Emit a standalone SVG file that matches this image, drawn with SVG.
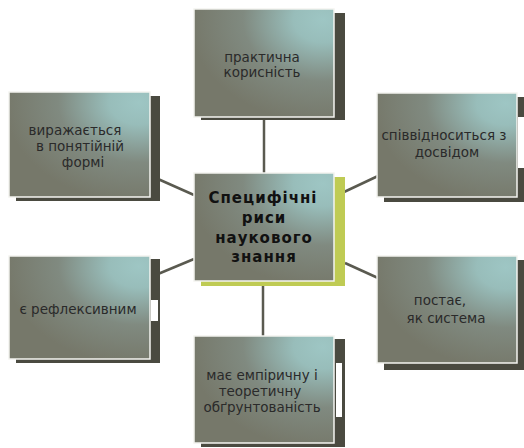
<svg xmlns="http://www.w3.org/2000/svg" width="524" height="448" viewBox="0 0 524 448">
  <defs>
    <radialGradient id="g" cx="0.92" cy="0.1" r="0.95" fx="0.92" fy="0.1">
      <stop offset="0" stop-color="#9ec6c4"/>
      <stop offset="0.22" stop-color="#98bdba"/>
      <stop offset="0.6" stop-color="#808a80"/>
      <stop offset="1" stop-color="#76786a"/>
    </radialGradient>
    <style>
      .box{fill:url(#g);stroke:#f4f4f0;stroke-width:1.5}
      .sh{fill:#4a4a40}
      .shc{fill:#bfcb54}
      .gap{fill:#ffffff}
      .t{font-family:"DejaVu Sans",Verdana,sans-serif;font-size:13.5px;fill:#2a2a2a}
      .tc{font-family:"DejaVu Sans",Verdana,sans-serif;font-size:15px;font-weight:bold;fill:#111111;letter-spacing:1px}
      .c{stroke:#5a5a50;stroke-width:2.5;fill:none}
    </style>
  </defs>
  <rect width="524" height="448" fill="#ffffff"/>
  <g id="connectors">
    <line class="c" x1="264" y1="117" x2="264" y2="173"/>
    <line class="c" x1="263" y1="281" x2="263" y2="336"/>
    <line class="c" x1="158" y1="179" x2="194" y2="195"/>
    <line class="c" x1="344" y1="192" x2="378" y2="176"/>
    <line class="c" x1="158" y1="274" x2="194" y2="259"/>
    <line class="c" x1="345" y1="263" x2="378" y2="278"/>
  </g>
  <g id="n-top">
    <rect class="sh" x="201" y="13" width="144" height="107"/>
    <rect class="box" x="194" y="9" width="140" height="108"/>
    <text class="t" text-anchor="middle" x="262" y="62">практична</text>
    <text class="t" text-anchor="middle" x="262" y="77">корисність</text>
  </g>
  <g id="n-left-top">
    <rect class="sh" x="16" y="96" width="144" height="105"/>
    <rect class="box" x="9" y="92" width="141" height="105"/>
    <text class="t" text-anchor="middle" x="75" y="135">виражається</text>
    <text class="t" text-anchor="middle" x="80" y="151">в понятійній</text>
    <text class="t" text-anchor="middle" x="83" y="167">формі</text>
  </g>
  <g id="n-right-top">
    <rect class="sh" x="384" y="97" width="144" height="105"/>
    <rect class="gap" x="518" y="117" width="8" height="51"/>
    <rect class="box" x="377" y="93" width="140" height="104"/>
    <text class="t" text-anchor="middle" x="444" y="140">співвідноситься з</text>
    <text class="t" text-anchor="middle" x="447" y="157">досвідом</text>
  </g>
  <g id="n-center">
    <rect class="shc" x="201" y="177" width="144" height="109"/>
    <rect class="box" x="194" y="173" width="140" height="108"/>
    <text class="tc" text-anchor="middle" x="263" y="203">Специфічні</text>
    <text class="tc" text-anchor="middle" x="264" y="223">риси</text>
    <text class="tc" text-anchor="middle" x="264" y="243">наукового</text>
    <text class="tc" text-anchor="middle" x="264" y="262">знання</text>
  </g>
  <g id="n-left-bottom">
    <rect class="sh" x="16" y="259" width="144" height="104"/>
    <rect class="gap" x="151" y="300" width="7" height="21"/>
    <rect class="box" x="9" y="256" width="141" height="103"/>
    <text class="t" text-anchor="middle" x="78" y="314">є рефлексивним</text>
  </g>
  <g id="n-right-bottom">
    <rect class="sh" x="384" y="260" width="144" height="110"/>
    <rect class="box" x="377" y="256" width="140" height="107"/>
    <text class="t" text-anchor="middle" x="440" y="305">постає,</text>
    <text class="t" text-anchor="middle" x="446" y="323">як система</text>
  </g>
  <g id="n-bottom">
    <rect class="sh" x="201" y="339" width="144" height="108"/>
    <rect class="gap" x="336" y="363" width="6" height="54"/>
    <rect class="box" x="194" y="336" width="140" height="107"/>
    <text class="t" text-anchor="middle" x="262" y="380">має емпіричну і</text>
    <text class="t" text-anchor="middle" x="260" y="396">теоретичну</text>
    <text class="t" text-anchor="middle" x="262" y="412">обґрунтованість</text>
  </g>
</svg>
